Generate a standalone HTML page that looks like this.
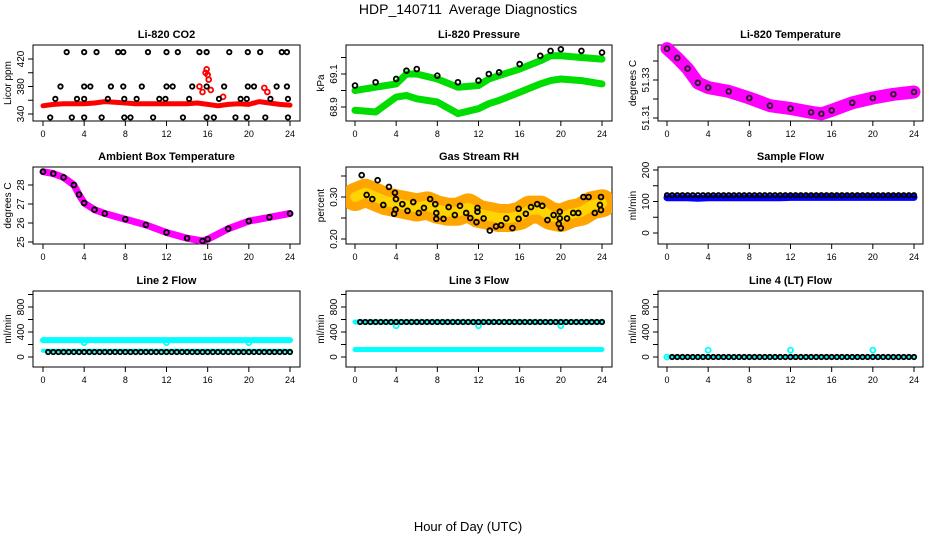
<!DOCTYPE html>
<html><head><meta charset="utf-8"><style>
html,body{margin:0;padding:0;background:#fff;}
svg{display:block;font-family:"Liberation Sans",Arial,sans-serif;}
</style></head><body>
<svg id="fig" width="936" height="540" viewBox="0 0 936 540" xmlns="http://www.w3.org/2000/svg">
<text x="468" y="14" text-anchor="middle" font-size="14">HDP_140711&#160; Average Diagnostics</text>
<text x="468" y="531" text-anchor="middle" font-size="13">Hour of Day (UTC)</text>
</svg>
<script>
// ---- data ----
const hours = [0,1,2,3,4,5,6,7,8,9,10,11,12,13,14,15,16,17,18,19,20,21,22,23,24];
const xTicks = [0,4,8,12,16,20,24];
const co2Red = [352,354,355,355,355,356,358,357,356,355,355,355,355,355,355,356,354,352,354,355,354,358,356,354,353];
const co2SpikeT = [15.2,15.5,15.8,15.9,16.0,16.1,16.3,17.5,21.5,21.8];
const co2SpikeV = [380,372,400,405,397,390,375,365,378,372];
const co2T430 = [2.3,4.0,5.2,7.3,7.8,10.2,12,13.1,15.2,15.9,18.1,19.9,21.1,23.2,23.7];
const co2T380 = [1.7,4,4.6,6.6,7.8,9.6,12,12.6,14.5,15.9,17.6,19.9,20.5,22.7,23.7];
const co2T362 = [1.2,3.3,4,6.3,7.9,9.1,11.3,11.9,14.2,17.1,19.2,19.8,22.1,23.8];
const co2T335 = [0.7,2.8,4,5.7,7.9,8.5,10.7,13.6,15.9,16.6,18.7,19.8,21.6,23.8];
const presT = [0,2,4,5,6,8,10,12,13,14,16,18,19,20,22,24];
const presBlack = [69.03,69.05,69.07,69.12,69.13,69.09,69.05,69.06,69.10,69.11,69.16,69.21,69.24,69.25,69.24,69.23];
const presGreenHi = [69.00,69.02,69.04,69.10,69.10,69.07,69.02,69.03,69.07,69.09,69.13,69.18,69.21,69.21,69.20,69.19];
const presGreenLo = [68.88,68.87,68.96,68.97,68.95,68.93,68.86,68.89,68.92,68.94,68.99,69.04,69.06,69.07,69.06,69.04];
const tempT = [0,1,2,3,4,6,8,10,12,14,15,16,18,20,22,24];
const tempMag = [51.3465,51.3416,51.336,51.3285,51.326,51.324,51.3205,51.3165,51.3150,51.3130,51.3122,51.3140,51.3180,51.3205,51.3225,51.3237];
const ambT = [0,1,2,3,3.5,4,5,6,8,10,12,14,15.5,16,18,20,22,24];
const ambV = [28.7,28.6,28.4,28.0,27.5,27.05,26.7,26.5,26.2,25.9,25.5,25.2,25.05,25.15,25.7,26.1,26.3,26.5];
const rhBand = [0.30,0.31,0.30,0.29,0.285,0.28,0.275,0.28,0.27,0.265,0.265,0.275,0.26,0.255,0.25,0.25,0.255,0.27,0.27,0.255,0.25,0.26,0.265,0.28,0.285];
const rhPtT = [0.65,1.13,1.68,2.2,2.75,3.3,3.88,3.98,3.94,3.8,4.6,5.1,5.66,6.2,6.7,7.3,7.8,7.9,7.9,8.6,9.1,9.7,10.2,10.8,11.2,11.9,11.9,11.8,12.5,13.1,13.7,14.2,14.7,15.3,15.9,15.9,16.6,17.1,17.7,18.2,18.7,19.3,19.9,19.9,19.8,20.0,20.6,21.2,21.7,22.2,22.7,23.3,23.8,23.9,23.9];
const rhPtV = [0.352,0.305,0.295,0.34,0.281,0.324,0.31,0.295,0.27,0.26,0.283,0.267,0.288,0.262,0.274,0.295,0.283,0.262,0.248,0.248,0.276,0.257,0.279,0.262,0.25,0.274,0.265,0.24,0.249,0.22,0.23,0.233,0.249,0.226,0.272,0.248,0.26,0.276,0.283,0.279,0.245,0.257,0.265,0.249,0.236,0.226,0.249,0.262,0.262,0.30,0.30,0.262,0.281,0.30,0.269];
const sampleBlue = [112,112,112,110,112,112,112,112,112,112,112,112,113,113,113,113,113,113,113,113,113,113,113,113,113];
const sampleBlack = 120;
const line2Cyan = 270, line2CyanLo = 100, line2Black = 80;
const line3Cyan = 560, line3Black = 560, line3CyanLo = 120;
const line4Cyan = 0, line4Black = 0;
const bumpT = [4,12,20];
const line4Bump = 110;
const halfHours = [];
for (let i = 0; i <= 48; i++) halfHours.push(i / 2);

// ---- helpers ----
const NS = "http://www.w3.org/2000/svg";
const svg = document.getElementById('fig');
function mk(tag, attrs, parent) {
  const e = document.createElementNS(NS, tag);
  for (const k in attrs) e.setAttribute(k, attrs[k]);
  (parent || svg).appendChild(e);
  return e;
}
const cols = [{l:33,r:300,x0:43,x24:290},{l:346,r:612,x0:355,x24:602},{l:658,r:923,x0:667,x24:914}];
const rows = [{t:45,b:121},{t:167,b:244},{t:291,b:367}];

function panel(name, title, ci, ri, v1, p1, v2, p2, ticks, labelTicks, ylab) {
  const c = cols[ci], r = rows[ri];
  const g = mk('g', {});
  
  
  const xs = t => c.x0 + (c.x24 - c.x0) * t / 24;
  const ys = v => p1 + (v - v1) * (p2 - p1) / (v2 - v1);
  const box = mk('rect', {x:c.l, y:r.t, width:c.r - c.l, height:r.b - r.t, fill:'none', stroke:'#000', 'stroke-width':1}, g);
  
  
  const tt = mk('text', {x:(c.l + c.r) / 2, y:r.t - 7, 'text-anchor':'middle', 'font-size':11, 'font-weight':'bold'}, g);
  tt.textContent = title;
  
  
  const xa = mk('g', {}, g);
  
  
  mk('line', {x1:xs(0), x2:xs(24), y1:r.b, y2:r.b, stroke:'#000'}, xa);
  xTicks.forEach(t => {
    mk('line', {x1:xs(t), x2:xs(t), y1:r.b, y2:r.b + 5, stroke:'#000'}, xa);
    const lb = mk('text', {x:xs(t), y:r.b + 16, 'text-anchor':'middle', 'font-size':9}, xa);
    lb.textContent = t;
    
    
  });
  const ya = mk('g', {}, g);
  
  
  mk('line', {x1:c.l, x2:c.l, y1:ys(ticks[0]), y2:ys(ticks[ticks.length - 1]), stroke:'#000'}, ya);
  ticks.forEach(v => {
    mk('line', {x1:c.l - 5, x2:c.l, y1:ys(v), y2:ys(v), stroke:'#000'}, ya);
  });
  labelTicks.forEach(lt => {
    const y = ys(lt[0]);
    const lb = mk('text', {x:c.l - 9, y:y, 'text-anchor':'middle', 'font-size':10, transform:'rotate(-90 ' + (c.l - 9) + ' ' + y + ')'}, ya);
    lb.textContent = lt[1];
    
    
  });
  const ymid = (r.t + r.b) / 2;
  const yl = mk('text', {x:c.l - 22, y:ymid, 'text-anchor':'middle', 'font-size':10, transform:'rotate(-90 ' + (c.l - 22) + ' ' + ymid + ')'}, g);
  yl.textContent = ylab;
  
  
  const clip = mk('clipPath', {id:'clip-' + name}, g);
  mk('rect', {x:c.l, y:r.t - 3, width:c.r - c.l, height:r.b - r.t + 6}, clip);
  const data = mk('g', {'clip-path':'url(#clip-' + name + ')'}, g);
  return {g:data, xs, ys};
}
function band(P, ts, vs, color, w, name) {
  const pts = ts.map((t, i) => P.xs(t).toFixed(1) + ',' + P.ys(vs[i]).toFixed(1)).join(' ');
  const pl = mk('polyline', {points:pts, fill:'none', stroke:color, 'stroke-width':w, 'stroke-linejoin':'round', 'stroke-linecap':'round'}, P.g);
  
  
}
function circles(P, ts, vs, color, name, rad) {
  ts.forEach((t, i) => {
    const ci = mk('circle', {cx:P.xs(t), cy:P.ys(vs[i]), r:rad || 2.4, fill:'none', stroke:color, 'stroke-width':1.8}, P.g);
    
    
  });
}
const fill = (n, v) => Array(n).fill(v);

P = panel('co2', 'Li-820 CO2', 0, 0, 340, 114, 420, 59, [340,360,380,400,420], [[340,'340'],[380,'380'],[420,'420']], 'Licor ppm');
band(P, hours, co2Red, '#ff0000', 5, 'co2-red-band');
circles(P, co2SpikeT, co2SpikeV, '#ff0000', 'co2-spike-point', 2.4);
circles(P, co2T430, fill(co2T430.length, 430), '#000', 'co2-point', 2.2);
circles(P, co2T380, fill(co2T380.length, 380), '#000', 'co2-point', 2.2);
circles(P, co2T362, fill(co2T362.length, 362), '#000', 'co2-point', 2.2);
circles(P, co2T335, fill(co2T335.length, 335), '#000', 'co2-point', 2.2);

P = panel('pressure', 'Li-820 Pressure', 1, 0, 68.9, 107, 69.1, 74, [68.9,69.0,69.1,69.2], [[68.9,'68.9'],[69.1,'69.1']], 'kPa');
band(P, presT, presGreenHi, '#00dd00', 7, 'pressure-green-upper');
band(P, presT, presGreenLo, '#00dd00', 7, 'pressure-green-lower');
circles(P, presT, presBlack, '#000', 'pressure-point');

P = panel('li820-temp', 'Li-820 Temperature', 2, 0, 51.31, 118, 51.33, 80, [51.31,51.32,51.33,51.34], [[51.31,'51.31'],[51.33,'51.33']], 'degrees C');
band(P, tempT, tempMag, '#ff00ff', 13, 'li820-temp-band');
circles(P, tempT, tempMag, '#222', 'li820-temp-point');

P = panel('ambient', 'Ambient Box Temperature', 0, 1, 25, 242, 28, 185, [25,26,27,28], [[25,'25'],[26,'26'],[27,'27'],[28,'28']], 'degrees C');
band(P, ambT, ambV, '#ff00ff', 7, 'ambient-band');
circles(P, ambT, ambV, '#000', 'ambient-point');

P = panel('gas-rh', 'Gas Stream RH', 1, 1, 0.20, 239, 0.30, 197, [0.20,0.25,0.30,0.35], [[0.20,'0.20'],[0.30,'0.30']], 'percent');
band(P, hours, rhBand, '#ffa500', 28, 'rh-band');
band(P, hours, rhBand, '#ffd400', 10, 'rh-band-core');
circles(P, rhPtT, rhPtV, '#000', 'rh-point');

P = panel('sample-flow', 'Sample Flow', 2, 1, 0, 233, 200, 170, [0,50,100,150,200], [[0,'0'],[100,'100'],[200,'200']], 'ml/min');
band(P, hours, sampleBlue, '#0000ff', 7, 'sample-blue-band');
circles(P, halfHours, fill(halfHours.length, sampleBlack), '#000', 'sample-point', 2.2);

const flowTicks = [0,200,400,600,800,1000];
const flowLabels = [[0,'0'],[400,'400'],[800,'800']];
P = panel('line2', 'Line 2 Flow', 0, 2, 0, 357, 800, 307, flowTicks, flowLabels, 'ml/min');
band(P, hours, fill(hours.length, line2Cyan), '#00ffff', 6, 'line2-cyan-upper');
band(P, hours, fill(hours.length, line2CyanLo), '#00ffff', 4, 'line2-cyan-lower');
circles(P, bumpT, fill(bumpT.length, line2Cyan - 40), '#00ffff', 'line2-cyan-dip', 2.5);
circles(P, halfHours.slice(1), fill(48, line2Black), '#000', 'line2-point', 2.2);

P = panel('line3', 'Line 3 Flow', 1, 2, 0, 357, 800, 307, flowTicks, flowLabels, 'ml/min');
band(P, hours, fill(hours.length, line3Cyan), '#00ffff', 5, 'line3-cyan-upper');
band(P, hours, fill(hours.length, line3CyanLo), '#00ffff', 5, 'line3-cyan-lower');
circles(P, bumpT, fill(bumpT.length, line3Cyan - 60), '#00ffff', 'line3-cyan-dip', 2.5);
circles(P, halfHours.slice(1), fill(48, line3Black), '#000', 'line3-point', 2.2);

P = panel('line4', 'Line 4 (LT) Flow', 2, 2, 0, 357, 800, 307, flowTicks, flowLabels, 'ml/min');
band(P, hours, fill(hours.length, line4Cyan), '#00ffff', 2, 'line4-cyan');
circles(P, [0], [line4Cyan], '#00ffff', 'line4-cyan-point', 2.5);
circles(P, bumpT, fill(bumpT.length, line4Bump), '#00ffff', 'line4-cyan-bump', 2.5);
circles(P, halfHours.slice(1), fill(48, line4Black), '#000', 'line4-point', 2.2);
</script>
</body></html>
